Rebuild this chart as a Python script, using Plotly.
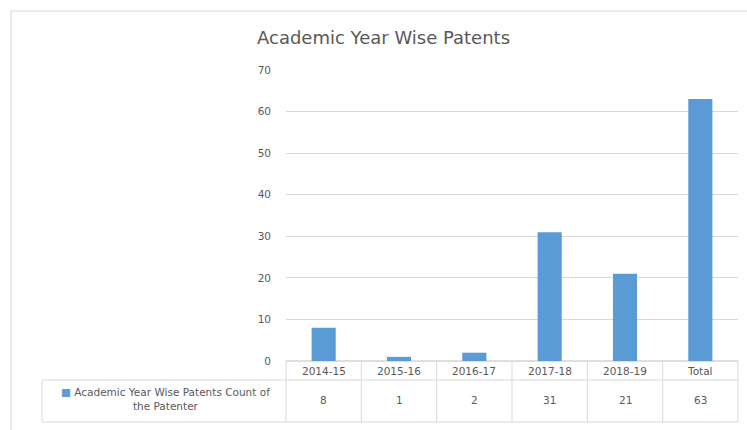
import plotly.graph_objects as go

# Patent counts per academic year
categories = ["2014-15", "2015-16", "2016-17", "2017-18", "2018-19", "Total"]
counts = [8, 1, 2, 31, 21, 63]
series_name = "Academic Year Wise Patents Count of<br>the Patenter"
title_text = "Academic Year Wise Patents"
y_ticks = [0, 10, 20, 30, 40, 50, 60, 70]

W, H = 747, 430
ML, MR, MT, MB = 286, 9, 70, 69
PW, PH = W - ML - MR, H - MT - MB

BAR = "#5B9BD5"
GRID = "#D9D9D9"
TXT = "#595959"
FONT = "DejaVu Sans"


def px(x):
    return (x - ML) / PW


def py(y):
    return 1 - (y - MT) / PH


fig = go.Figure(
    go.Bar(
        x=list(range(len(categories))),
        y=counts,
        marker=dict(color=BAR, line=dict(width=0)),
        width=0.32,
        hoverinfo="x+y",
    )
)

shapes = []


def line(x0, y0, x1, y1, color=GRID, w=1):
    shapes.append(dict(type="line", xref="paper", yref="paper",
                       x0=px(x0), y0=py(y0), x1=px(x1), y1=py(y1),
                       line=dict(color=color, width=w), layer="below"))


# outer chart border
shapes.append(dict(type="rect", xref="paper", yref="paper",
                   x0=px(11), y0=py(11), x1=px(760), y1=py(445),
                   line=dict(color="#E3E3E3", width=1.5), layer="below"))

# data table grid
row_sep, tab_bottom, left_edge, right_edge = 380, 422, 42, ML + PW
line(ML, 361, right_edge, 361, color="#BFBFBF")
line(left_edge, row_sep, right_edge, row_sep)
line(left_edge, tab_bottom, right_edge, tab_bottom)
line(left_edge, row_sep, left_edge, tab_bottom)
for i in range(len(categories) + 1):
    xb = ML + i * PW / len(categories)
    line(xb, 361, xb, tab_bottom)

annotations = [
    dict(text=title_text, xref="paper", yref="paper", x=px(383), y=py(38),
         showarrow=False, font=dict(family=FONT, size=18, color=TXT),
         xanchor="center", yanchor="middle"),
    dict(text="<span style='color:%s'>■</span> %s" % (BAR, series_name),
         xref="paper", yref="paper", x=px(165), y=py(399), showarrow=False,
         font=dict(family=FONT, size=10.5, color=TXT), align="center",
         xanchor="center", yanchor="middle"),
]
for i, (c, v) in enumerate(zip(categories, counts)):
    annotations.append(dict(text=c, xref="x", yref="paper", x=i, y=py(371),
                            showarrow=False, font=dict(family=FONT, size=10.5, color=TXT),
                            xanchor="center", yanchor="middle"))
    annotations.append(dict(text=str(v), xref="x", yref="paper", x=i, y=py(400),
                            showarrow=False, font=dict(family=FONT, size=10.5, color=TXT),
                            xanchor="center", yanchor="middle"))

fig.update_layout(
    width=W, height=H,
    margin=dict(l=ML, r=MR, t=MT, b=MB, pad=0),
    paper_bgcolor="white", plot_bgcolor="white",
    showlegend=False,
    shapes=shapes,
    annotations=annotations,
    xaxis=dict(range=[-0.5, len(categories) - 0.5], showticklabels=False,
               showgrid=False, zeroline=False, showline=False, fixedrange=True),
    yaxis=dict(range=[0, 70], tickvals=y_ticks, showgrid=True, gridcolor=GRID,
               gridwidth=1, zeroline=False, showline=False, ticks="",
               tickfont=dict(family=FONT, size=10.5, color=TXT), ticklabelstandoff=14,
               fixedrange=True),
)

fig.write_html("out.html")
